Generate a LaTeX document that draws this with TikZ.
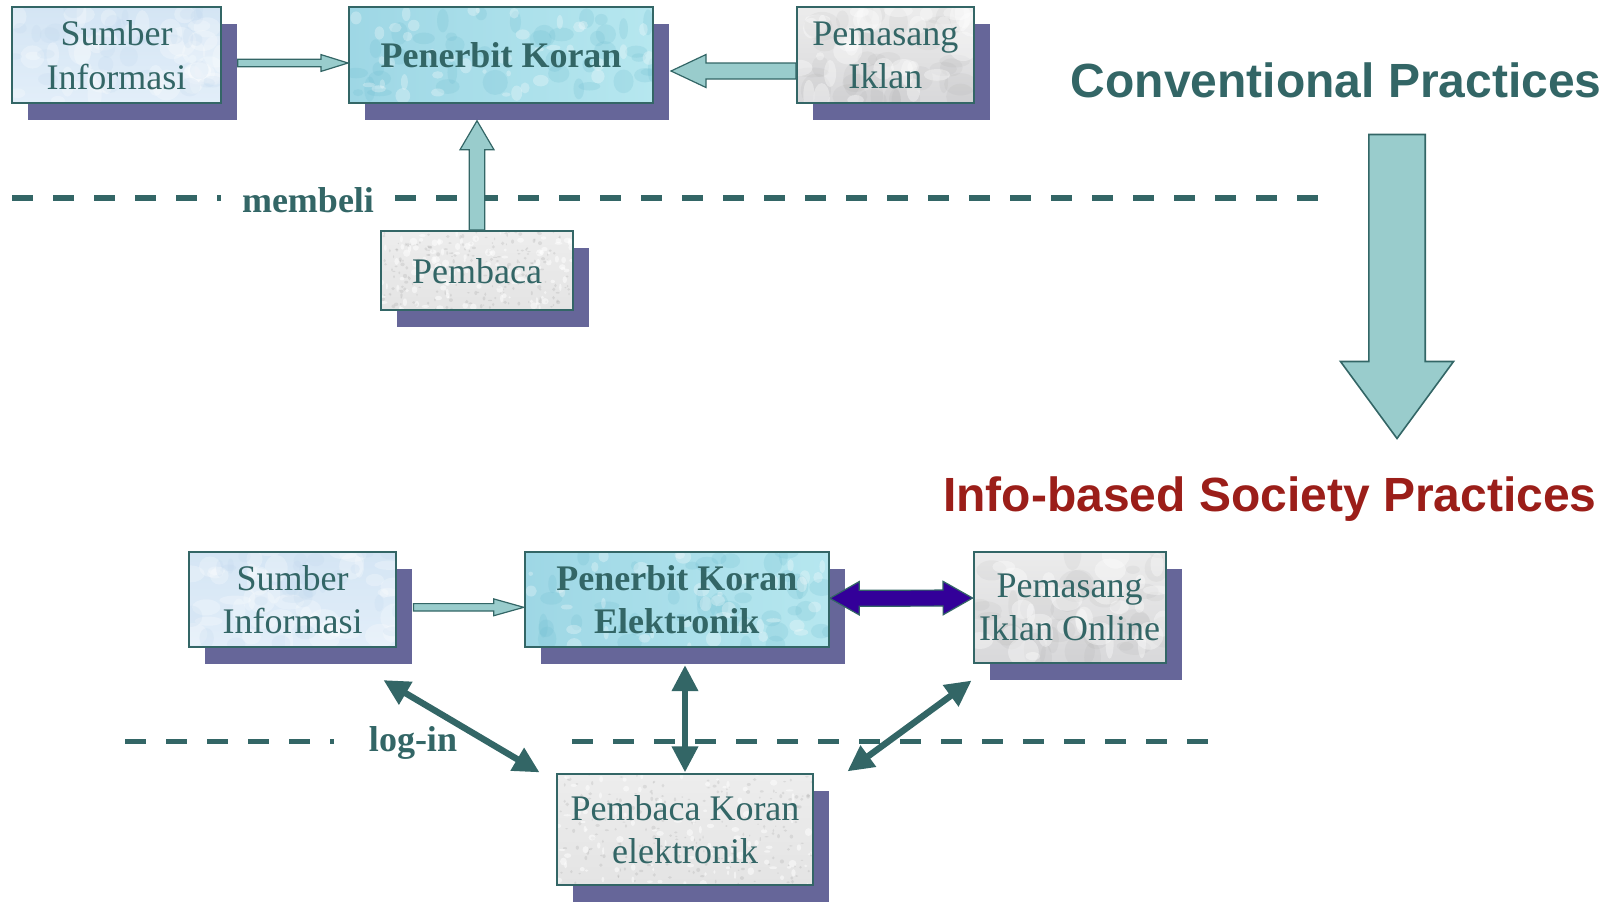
\documentclass[tikz,border=0pt]{standalone}
\usepackage{fontspec}
\setmainfont{Liberation Serif}
\newfontfamily\headfont{Liberation Sans}
\usetikzlibrary{calc,arrows.meta,shadows}

\definecolor{inkteal}{RGB}{51,102,102}
\definecolor{shadowviolet}{RGB}{102,102,153}
\definecolor{paleteal}{RGB}{153,204,204}
\definecolor{indigoflow}{RGB}{51,0,153}
\definecolor{titlered}{RGB}{155,30,25}
\definecolor{srcA}{RGB}{212,229,244}
\definecolor{srcB}{RGB}{226,238,249}
\definecolor{srcC}{RGB}{190,214,237}
\definecolor{pubA}{RGB}{158,215,229}
\definecolor{pubB}{RGB}{182,231,239}
\definecolor{pubC}{RGB}{112,190,208}
\definecolor{adA}{RGB}{236,236,236}
\definecolor{adB}{RGB}{216,216,218}
\definecolor{rdA}{RGB}{237,237,237}
\definecolor{rdB}{RGB}{228,228,228}

% block arrow: style, tail, tip, shaft half width, head half width, head length
\newcommand\blockarrow[6]{%
  \path ($(#3)!#6!(#2)$) coordinate (ba-h);
  \draw[#1] ($(#2)!#4!90:(#3)$) -- ($(ba-h)!#4!-90:(#2)$) -- ($(ba-h)!#5!-90:(#2)$) -- (#3)
    -- ($(ba-h)!#5!90:(#2)$) -- ($(ba-h)!#4!90:(#2)$) -- ($(#2)!#4!-90:(#3)$) -- cycle;
}
% double-headed block arrow: style, tip, tip, shaft half width, head half width, head length
\newcommand\dblockarrow[6]{%
  \path ($(#2)!#6!(#3)$) coordinate (da-a) ($(#3)!#6!(#2)$) coordinate (da-b);
  \draw[#1] (#2) -- ($(da-a)!#5!90:(#3)$) -- ($(da-a)!#4!90:(#3)$) -- ($(da-b)!#4!-90:(#2)$)
    -- ($(da-b)!#5!-90:(#2)$) -- (#3) -- ($(da-b)!#5!90:(#2)$) -- ($(da-b)!#4!90:(#2)$)
    -- ($(da-a)!#4!-90:(#3)$) -- ($(da-a)!#5!-90:(#3)$) -- cycle;
}
% scatter of soft blobs inside a node's own outline: count, colour, min radius, extra radius, opacity
\newcommand\mottle[5]{%
  \foreach \k in {1,...,#1}{%
    \fill[#2, opacity=#5] let \p1=(path picture bounding box.south west),
      \p2=(path picture bounding box.north east) in
      ({\x1+rnd*(\x2-\x1)},{\y1+rnd*(\y2-\y1)}) circle[x radius={#3+rnd*#4}, y radius={#3+rnd*#4}];
  }%
}

\tikzset{
  box/.style={draw=inkteal, line width=1pt, text=inkteal, align=center, inner sep=0pt,
    font=\fontsize{18}{21.5}\selectfont, text depth=-3pt,
    drop shadow={shadow xshift=8pt, shadow yshift=-8.5pt, fill=shadowviolet, opacity=1}},
  srcbox/.style={box, top color=srcA, bottom color=srcB,
    path picture={\mottle{45}{white}{2pt}{6pt}{0.25}\mottle{30}{srcC}{1.5pt}{4pt}{0.2}}},
  pubbox/.style={box, left color=pubA, right color=pubB, font=\fontsize{18}{21.5}\selectfont\bfseries,
    path picture={\mottle{40}{pubC}{1.5pt}{5pt}{0.22}\mottle{40}{white}{1pt}{3pt}{0.28}}},
  adbox/.style={box, top color=adA, bottom color=adB,
    path picture={\mottle{35}{gray}{2pt}{7pt}{0.07}\mottle{30}{white}{2pt}{6pt}{0.35}}},
  readbox/.style={box, top color=rdA, bottom color=rdB,
    path picture={\mottle{220}{gray}{0.3pt}{0.8pt}{0.16}\mottle{120}{white}{0.5pt}{1.5pt}{0.5}}},
  flow/.style={fill=paleteal, draw=inkteal, line width=0.6pt, line join=miter},
  duplex/.style={fill=indigoflow, draw=inkteal, line width=0.6pt, line join=miter},
  link/.style={draw=inkteal, line width=3.2pt,
    {Triangle[length=13pt,width=12.5pt]}-{Triangle[length=13pt,width=12.5pt]}},
  divider/.style={draw=inkteal, line width=2.7pt, dash pattern=on 10.5pt off 10pt},
  cue/.style={text=inkteal, font=\fontsize{18}{22}\selectfont\bfseries, inner sep=0pt},
  heading/.style={font=\headfont\bfseries\fontsize{24}{28}\selectfont, inner sep=0pt}
}

\begin{document}
\begin{tikzpicture}[x=0.5pt, y=-0.5pt]
\pgfmathsetseed{4711}
\useasboundingbox (0,0) rectangle (1610,902);

% dividers between the parties
\draw[divider] (12,198) -- (221,198);
\draw[divider] (395,198) -- (1325,198);
\draw[divider] (125,741.5) -- (334,741.5);
\draw[divider] (572,741.5) -- (1215,741.5);
\node[cue] (buy) at (308,200) {membeli};
\node[cue] (login) at (413,743) {log-in};

% conventional newspaper
\node[srcbox, minimum width=104.2pt, minimum height=47.75pt] (s1) at (116.5,55) {Sumber\\Informasi};
\node[pubbox, minimum width=152pt, minimum height=47.75pt] (p1) at (501,55) {Penerbit Koran};
\node[adbox, minimum width=88.3pt, minimum height=47.75pt] (a1) at (885.3,55) {Pemasang\\Iklan};
\node[readbox, minimum width=96pt, minimum height=39.5pt] (r1) at (477,270.5) {Pembaca};

\coordinate (s1p1-t) at ($(s1.east)+(16,8)$);
\coordinate (s1p1-h) at ($(p1.west)+(0,8)$);
\blockarrow{flow}{s1p1-t}{s1p1-h}{1.85pt}{4.2pt}{13.5pt}
\coordinate (a1p1-t) at ($(a1.west)+(0,16)$);
\coordinate (a1p1-h) at ($(p1.east)+(17,16)$);
\blockarrow{flow}{a1p1-t}{a1p1-h}{4pt}{8.25pt}{17.5pt}
\coordinate (r1p1-t) at (r1.north);
\coordinate (r1p1-h) at ($(r1.north |- p1.south)+(0,17)$);
\blockarrow{flow}{r1p1-t}{r1p1-h}{3.9pt}{8.5pt}{14.5pt}

% headings and the shift between them
\node[heading, text=inkteal, anchor=east] (conv) at (1602,80) {Conventional Practices};
\node[heading, text=titlered, anchor=east] (info) at (1597,499) {Info-based Society Practices};
\coordinate (shift-t) at (1397,134.5);
\coordinate (shift-h) at (1397,438.5);
\blockarrow{flow, line width=0.8pt}{shift-t}{shift-h}{14.1pt}{28.25pt}{38.5pt}

% electronic newspaper
\node[srcbox, minimum width=103.7pt, minimum height=47.75pt] (s2) at (292.7,599.3) {Sumber\\Informasi};
\node[pubbox, minimum width=152pt, minimum height=47.75pt] (p2) at (676.8,599.3) {Penerbit Koran\\Elektronik};
\node[adbox, minimum width=96pt, minimum height=55.5pt] (a2) at (1069.6,607) {Pemasang\\Iklan Online};
\node[readbox, minimum width=128.4pt, minimum height=55.3pt] (r2) at (685,829.7) {Pembaca Koran\\elektronik};

\coordinate (s2p2-t) at ($(s2.east)+(16,8)$);
\coordinate (s2p2-h) at ($(p2.west)+(0,8)$);
\blockarrow{flow}{s2p2-t}{s2p2-h}{1.85pt}{4.2pt}{15pt}
\coordinate (p2a2-a) at ($(p2.east)+(0,-1)$);
\coordinate (p2a2-b) at ($(a2.west)+(0,-9)$);
\dblockarrow{duplex}{p2a2-a}{p2a2-b}{4pt}{8.35pt}{14.75pt}

\coordinate (la-a) at ($(s2.south east)+(-14,32)$);
\coordinate (la-b) at ($(r2.north west)+(-16,-1)$);
\coordinate (va-a) at ($(r2.north |- p2.south)+(0,17)$);
\coordinate (va-b) at ($(r2.north)+(0,-1)$);
\coordinate (ra-a) at ($(a2.south west)+(-1,17)$);
\coordinate (ra-b) at ($(r2.north east)+(33,-2)$);
\draw[link] (la-a) -- (la-b);
\draw[link] (va-a) -- (va-b);
\draw[link] (ra-a) -- (ra-b);
\end{tikzpicture}
\end{document}
